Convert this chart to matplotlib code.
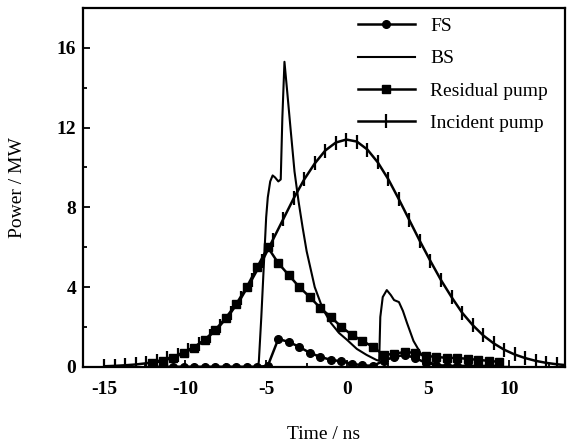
import matplotlib

matplotlib.use("Agg")
import matplotlib.pyplot as plt
from matplotlib.ticker import MultipleLocator

plt.rcParams["font.family"] = ["Liberation Serif", "DejaVu Serif"]
plt.rcParams["axes.unicode_minus"] = False

# incident pump (ns, MW)
inc_t = [-15.0, -14.35, -13.7, -13.05, -12.4, -11.75, -11.1, -10.45, -9.8, -9.15,
         -8.5, -7.85, -7.2, -6.55, -5.9, -5.25, -4.6, -3.95, -3.3, -2.65,
         -2.0, -1.35, -0.7, -0.05, 0.6, 1.25, 1.9, 2.55, 3.2, 3.85,
         4.5, 5.15, 5.8, 6.45, 7.1, 7.75, 8.4, 9.05, 9.7, 10.35,
         11.0, 11.65, 12.3, 12.95, 13.6]
inc_p = [0.03, 0.05, 0.08, 0.12, 0.18, 0.28, 0.42, 0.6, 0.85, 1.15,
         1.55, 2.07, 2.7, 3.45, 4.35, 5.3, 6.35, 7.4, 8.45, 9.4,
         10.2, 10.85, 11.25, 11.4, 11.3, 10.9, 10.25, 9.4, 8.4, 7.35,
         6.3, 5.3, 4.35, 3.5, 2.72, 2.1, 1.58, 1.18, 0.86, 0.62,
         0.44, 0.3, 0.2, 0.13, 0.08]

# forward Stokes and residual pump share one time grid
res_t = [-12.05, -11.4, -10.75, -10.1, -9.45, -8.8, -8.15, -7.5, -6.85, -6.2,
         -5.55, -4.9, -4.25, -3.6, -2.95, -2.3, -1.65, -1.0, -0.35, 0.3,
         0.95, 1.6, 2.25, 2.9, 3.55, 4.2, 4.85, 5.5, 6.15, 6.8,
         7.45, 8.1, 8.75, 9.4]
res_p = [0.18, 0.3, 0.46, 0.68, 0.96, 1.35, 1.85, 2.45, 3.15, 4.0,
         5.0, 6.0, 5.2, 4.6, 4.0, 3.5, 2.95, 2.5, 2.0, 1.6,
         1.3, 1.0, 0.6, 0.65, 0.75, 0.7, 0.55, 0.5, 0.45, 0.45,
         0.4, 0.35, 0.3, 0.25]
fs_p = [0.0, 0.0, 0.0, 0.0, 0.0, 0.0, 0.0, 0.0, 0.0, 0.0,
        0.0, 0.05, 1.4, 1.25, 1.0, 0.7, 0.5, 0.35, 0.28, 0.15,
        0.08, 0.05, 0.3, 0.5, 0.6, 0.45, 0.2, 0.1, 0.05, 0.05,
        0.05, 0.05, 0.05, 0.05]

# backward Stokes, plain line
bs_t = [-12.0, -5.5, -5.45, -5.3, -5.15, -5.0, -4.9, -4.75, -4.6, -4.45,
        -4.25, -4.1, -4.0, -3.87, -3.7, -3.5, -3.25, -3.0, -2.75, -2.5,
        -2.0, -1.5, -1.0, -0.5, 0.0, 0.6, 1.2, 1.8, 1.98, 2.05,
        2.2, 2.45, 2.7, 2.9, 3.2, 3.45, 3.7, 4.1, 4.6, 5.1,
        5.6, 6.0, 10.0]
bs_p = [0.0, 0.0, 0.3, 2.5, 5.0, 7.5, 8.5, 9.3, 9.6, 9.5,
        9.3, 9.4, 12.5, 15.3, 13.8, 12.0, 9.8, 8.3, 7.0, 5.8,
        4.0, 2.9, 2.2, 1.7, 1.35, 0.9, 0.6, 0.35, 0.3, 2.5,
        3.5, 3.85, 3.6, 3.35, 3.25, 2.8, 2.2, 1.3, 0.6, 0.25,
        0.05, 0.0, 0.0]

fig = plt.figure(figsize=(5.7, 4.42), dpi=100)
ax = fig.add_axes([0.146, 0.170, 0.845, 0.812])

ax.plot(res_t, fs_p, color="black", lw=1.8, marker="o", ms=5.5, label="FS")
ax.plot(bs_t, bs_p, color="black", lw=1.5, label="BS")
ax.plot(res_t, res_p, color="black", lw=1.8, marker="s", ms=5.5, label="Residual pump")
ax.plot(inc_t, inc_p, color="black", lw=1.8, marker="|", ms=10, mew=1.6,
        label="Incident pump")

ax.set_xlim(-16.3, 13.45)
ax.set_ylim(0, 18)
ax.xaxis.set_major_locator(MultipleLocator(5))
ax.xaxis.set_minor_locator(MultipleLocator(2.5))
ax.yaxis.set_major_locator(MultipleLocator(4))
ax.yaxis.set_minor_locator(MultipleLocator(2))
ax.tick_params(which="both", direction="in", labelsize=14, width=1.3)
ax.tick_params(which="major", length=5)
ax.tick_params(which="minor", length=3)
ax.tick_params(axis="x", pad=10)
ax.tick_params(axis="y", pad=5)
for lab in ax.get_xticklabels() + ax.get_yticklabels():
    lab.set_fontweight("bold")
for sp in ax.spines.values():
    sp.set_linewidth(1.6)

ax.set_xlabel("Time / ns", fontsize=14, labelpad=20)
ax.set_ylabel("Power / MW", fontsize=14, labelpad=22)

ax.legend(loc="upper right", frameon=False, fontsize=14, numpoints=1,
          handlelength=2.9, labelspacing=0.75, borderaxespad=0.1,
          bbox_to_anchor=(0.985, 1.0))

fig.savefig("out.png", dpi=100)
